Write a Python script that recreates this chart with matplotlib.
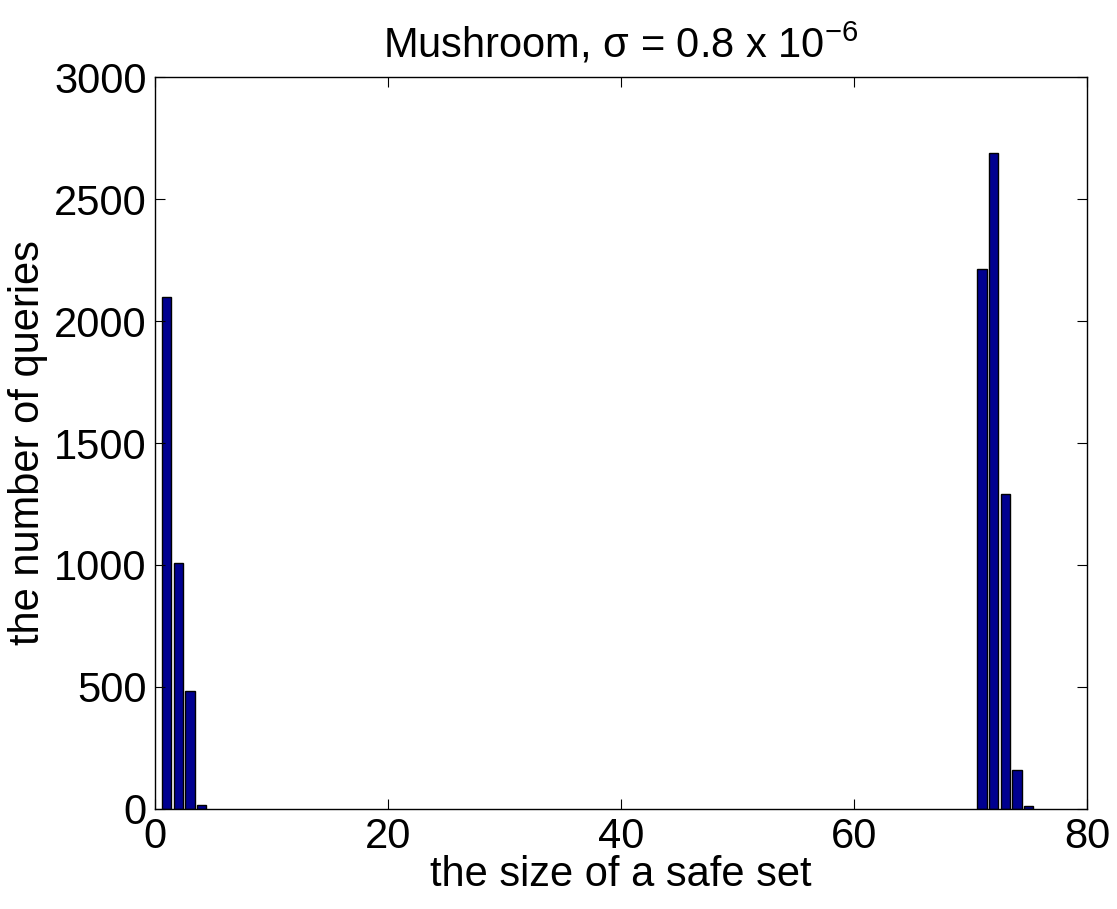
import matplotlib
matplotlib.use("Agg")
import matplotlib.pyplot as plt

plt.rcParams['font.family'] = ['Liberation Sans', 'DejaVu Sans']
plt.rcParams['mathtext.fontset'] = 'custom'
plt.rcParams['mathtext.rm'] = 'Liberation Sans'
plt.rcParams['mathtext.it'] = 'Liberation Sans:italic'

# histogram of safe-set sizes
sizes = [1, 2, 3, 4, 71, 72, 73, 74, 75]
counts = [2100, 1008, 483, 18, 2215, 2690, 1290, 160, 12]

fig = plt.figure(figsize=(11.17, 9.09), dpi=100)
ax = fig.add_axes([155 / 1117, 1 - 809 / 909, (1087 - 155) / 1117, (809 - 77) / 909])

ax.bar(sizes, counts, width=0.8, color='#000090', edgecolor='black', linewidth=1)

ax.set_xlim(0, 80)
ax.set_ylim(0, 3000)
ax.set_xticks(range(0, 81, 20))
ax.set_yticks(range(0, 3001, 500))
ax.tick_params(direction='in', top=True, right=True, labelsize=30, length=7, pad=6)
for s in ax.spines.values():
    s.set_linewidth(1)

ax.set_xlabel('the size of a safe set', fontsize=30, labelpad=-2)
ax.set_ylabel('the number of queries', fontsize=30, labelpad=4)
ax.set_title(r'Mushroom, $\mathrm{\sigma}$ = 0.8 x 10$^{-6}$', fontsize=30, pad=14)

fig.savefig('out.png', dpi=100)
